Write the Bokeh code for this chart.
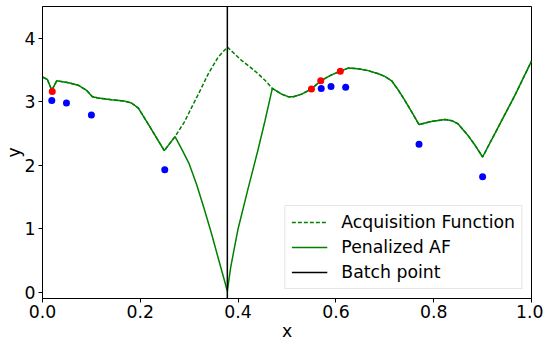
from bokeh.plotting import figure
from bokeh.models import Legend, LegendItem, FixedTicker, PrintfTickFormatter
from bokeh.embed import file_html
from bokeh.resources import INLINE

# Acquisition function (full curve)
af_x = [0.0, 0.01, 0.019, 0.029, 0.053, 0.073, 0.09, 0.102, 0.114, 0.141, 0.168, 0.182, 0.196,
        0.216, 0.249, 0.271, 0.290, 0.305, 0.322, 0.339, 0.359, 0.378, 0.392, 0.407, 0.424,
        0.441, 0.456, 0.470, 0.489, 0.502, 0.513, 0.530, 0.550, 0.569, 0.590, 0.609, 0.625,
        0.645, 0.666, 0.687, 0.700, 0.714, 0.727, 0.741, 0.755, 0.770, 0.795, 0.823, 0.838,
        0.850, 0.870, 0.885, 0.900, 0.932, 0.966, 1.0]
af_y = [3.39, 3.35, 3.18, 3.33, 3.30, 3.26, 3.18, 3.08, 3.06, 3.03, 3.01, 2.98, 2.90,
        2.65, 2.23, 2.45, 2.68, 2.91, 3.17, 3.44, 3.70, 3.86, 3.76, 3.65, 3.55,
        3.44, 3.33, 3.21, 3.12, 3.08, 3.08, 3.12, 3.20, 3.33, 3.42, 3.48, 3.53,
        3.52, 3.49, 3.44, 3.40, 3.33, 3.19, 3.02, 2.84, 2.64, 2.69, 2.72, 2.70,
        2.65, 2.47, 2.31, 2.13, 2.60, 3.10, 3.64]

# Penalized AF where it differs from the acquisition function
pen_seg_x = [0.271, 0.285, 0.300, 0.315, 0.330, 0.345, 0.360, 0.378, 0.385, 0.400, 0.420,
             0.440, 0.455, 0.470]
pen_seg_y = [2.45, 2.25, 2.02, 1.70, 1.33, 0.94, 0.52, 0.02, 0.40, 1.00, 1.62,
             2.22, 2.70, 3.21]

# Observed points and batch points
obs_x = [0.019, 0.049, 0.100, 0.250, 0.570, 0.590, 0.620, 0.770, 0.900]
obs_y = [3.02, 2.98, 2.79, 1.93, 3.21, 3.24, 3.23, 2.33, 1.82]
batch_pts_x = [0.020, 0.550, 0.569, 0.609]
batch_pts_y = [3.16, 3.20, 3.33, 3.48]
batch_x = 0.378

x_ticks = [0.0, 0.2, 0.4, 0.6, 0.8, 1.0]
y_ticks = [0, 1, 2, 3, 4]

# build penalized curve
lo, hi = pen_seg_x[0], pen_seg_x[-1]
pen_x = [x for x in af_x if x < lo] + pen_seg_x + [x for x in af_x if x > hi]
pen_y = ([y for x, y in zip(af_x, af_y) if x < lo] + pen_seg_y +
         [y for x, y in zip(af_x, af_y) if x > hi])

FONT = "DejaVu Sans"
FS = "17.3px"
p = figure(frame_width=489, frame_height=292, min_border_left=36, min_border_right=12,
           min_border_top=6, min_border_bottom=0,
           x_range=(0, 1), y_range=(-0.099, 4.5),
           output_backend="svg", toolbar_location=None)
p.xgrid.visible = False
p.ygrid.visible = False
p.outline_line_color = "black"
p.outline_line_width = 1

GREEN = "#008000"
r_af = p.line(af_x, af_y, line_color=GREEN, line_width=1.5, line_dash="4 2")
r_pen = p.line(pen_x, pen_y, line_color=GREEN, line_width=1.5)
r_batch = p.line([batch_x, batch_x], [-1, 10], line_color="black", line_width=1.5)
p.scatter(obs_x, obs_y, size=7, fill_color="blue", line_color=None)
p.scatter(batch_pts_x, batch_pts_y, size=7, fill_color="red", line_color=None)

for ax in (p.xaxis[0], p.yaxis[0]):
    ax.major_label_text_font = FONT
    ax.major_label_text_font_size = FS
    ax.axis_label_text_font = FONT
    ax.axis_label_text_font_size = FS
    ax.axis_label_text_font_style = "normal"
    ax.minor_tick_line_color = None
    ax.major_tick_out = 4
    ax.major_tick_in = 0
    ax.axis_line_color = "black"
    ax.major_tick_line_color = "black"
    ax.major_label_text_color = "black"
    ax.axis_label_text_color = "black"
    ax.axis_label_standoff = 0

p.xaxis[0].ticker = FixedTicker(ticks=x_ticks)
p.xaxis[0].formatter = PrintfTickFormatter(format="%.1f")
p.xaxis[0].major_label_standoff = 2
p.xaxis[0].axis_label = "x"
p.yaxis[0].ticker = FixedTicker(ticks=y_ticks)
p.yaxis[0].formatter = PrintfTickFormatter(format="%d")
p.yaxis[0].major_label_standoff = 3
p.yaxis[0].axis_label_standoff = -2
p.yaxis[0].axis_label = "y"

legend = Legend(items=[
    LegendItem(label="Acquisition Function", renderers=[r_af]),
    LegendItem(label="Penalized AF", renderers=[r_pen]),
    LegendItem(label="Batch point", renderers=[r_batch]),
], location="bottom_right")
legend.label_text_font = FONT
legend.label_text_font_size = FS
legend.label_text_color = "black"
legend.glyph_width = 36
legend.glyph_height = 20
legend.label_height = 20
legend.label_standoff = 14
legend.spacing = 5
legend.padding = 6
legend.margin = 9
legend.border_line_color = "#cccccc"
legend.border_line_width = 1
legend.background_fill_alpha = 0.8
p.add_layout(legend)

open("out.html", "w").write(file_html(p, INLINE))
